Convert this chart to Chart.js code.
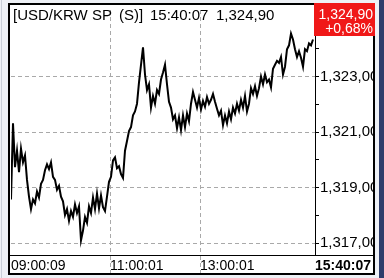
<!DOCTYPE html>
<html>
<head>
<meta charset="utf-8">
<script src="https://cdn.jsdelivr.net/npm/chart.js@4.4.0/dist/chart.umd.min.js"></script>
<style>
  html, body { margin: 0; padding: 0; background: #eef1f6; }
  #wrap { width: 384px; height: 278px; position: relative; }
</style>
</head>
<body>
<div id="wrap"><canvas id="c" width="384" height="278"></canvas></div>
<script>
// USD/KRW spot, intraday trace (one value per step)
const prices = [
  1318.58, 1321.32, 1319.74, 1320.33, 1319.56, 1320.40, 1319.91, 1320.16, 1319.28, 1318.68,
  1318.23, 1318.58, 1318.44, 1318.86, 1318.65, 1319.14, 1319.28, 1319.63, 1319.84, 1319.67,
  1319.91, 1319.39, 1319.28, 1318.93, 1319.07, 1318.68, 1318.51, 1318.02, 1318.23, 1317.81,
  1318.16, 1317.95, 1318.40, 1318.09, 1318.33, 1317.11, 1317.46, 1317.95, 1317.74, 1318.33,
  1318.09, 1318.65, 1318.23, 1318.79, 1318.26, 1318.72, 1318.30, 1318.16, 1318.68, 1319.21,
  1319.39, 1319.98, 1320.09, 1319.70, 1319.77, 1319.49, 1319.35, 1320.33, 1320.68, 1321.04,
  1321.18, 1321.60, 1321.74, 1322.02, 1322.79, 1323.42, 1324.05, 1323.07, 1322.51, 1322.72,
  1321.88, 1322.30, 1322.02, 1322.51, 1322.37, 1322.89, 1323.14, 1323.42, 1322.72, 1322.09,
  1321.88, 1321.46, 1321.60, 1321.14, 1321.53, 1321.07, 1321.60, 1321.18, 1321.67, 1321.39,
  1322.02, 1322.44, 1322.16, 1321.88, 1322.23, 1321.81, 1322.12, 1321.91, 1322.26, 1322.02,
  1322.16, 1322.37, 1322.09, 1321.84, 1321.60, 1321.77, 1321.25, 1321.60, 1321.32, 1321.74,
  1321.46, 1321.88, 1321.67, 1322.02, 1321.77, 1322.16, 1321.88, 1322.30, 1321.74, 1322.02,
  1322.58, 1322.37, 1322.65, 1322.30, 1322.58, 1323.00, 1322.72, 1323.07, 1322.79, 1322.89,
  1322.61, 1323.28, 1323.42, 1323.56, 1323.49, 1323.70, 1323.07, 1323.35, 1323.98, 1324.12,
  1324.54, 1324.33, 1323.98, 1323.70, 1323.91, 1323.67, 1323.35, 1323.98, 1323.91, 1324.19,
  1324.12, 1324.33
];

const timeTicks = [0, 49.5, 94.5, 152];
const timeLabels = ['09:00:09', '11:00:01', '13:00:01', '15:40:07'];
const gridTimes = [49.5, 94.5];

const yTicks = [1317, 1318, 1319, 1320, 1321, 1322, 1323, 1324, 1325];
const yLabelVals = [1317, 1319, 1321, 1323];
const yLabelText = ['1,317,00', '1,319,00', '1,321,00', '1,323,00'];

const titleParts = ['[USD/KRW SP', '(S)]', '15:40:07', '1,324,90'];
const lastPrice = '1,324,90';
const lastChange = '+0,68%';

const FONT = "'Liberation Sans', Arial, sans-serif";
const GRID = '#a9a9a9';
const BG = '#eef1f6';

Chart.defaults.font.family = FONT;
Chart.defaults.font.size = 14;
Chart.defaults.color = '#000';

const framePlugin = {
  id: 'frame',
  beforeDraw(chart) {
    const ctx = chart.ctx;
    ctx.save();
    ctx.fillStyle = BG;
    ctx.fillRect(0, 0, 384, 278);
    ctx.fillStyle = '#c9ced8';
    ctx.fillRect(1, 0, 1, 278);
    ctx.fillStyle = '#fff';
    ctx.fillRect(9, 4, 365, 270);
    ctx.restore();
  },
  afterDraw(chart) {
    const ctx = chart.ctx;
    const xs = chart.scales.x;
    ctx.save();
    // dashed time lines run on through the label strip
    ctx.strokeStyle = GRID;
    ctx.setLineDash([4, 3]);
    ctx.lineWidth = 1;
    gridTimes.forEach(t => {
      const px = Math.round(xs.getPixelForValue(t)) + 0.5;
      ctx.beginPath();
      ctx.moveTo(px, 256);
      ctx.lineTo(px, 273);
      ctx.stroke();
    });
    ctx.setLineDash([]);
    // clip the price labels at the frame
    ctx.fillStyle = BG;
    ctx.fillRect(375, 0, 9, 278);
    ctx.fillStyle = '#2f3d6b';
    ctx.fillRect(379, 0, 5, 278);
    // frame
    ctx.strokeStyle = '#000';
    ctx.lineWidth = 2;
    ctx.strokeRect(9, 4, 365, 270);
    ctx.lineWidth = 1;
    ctx.beginPath();
    ctx.moveTo(9, 255.5);
    ctx.lineTo(374, 255.5);
    ctx.stroke();
    // last price box
    ctx.fillStyle = '#f01818';
    ctx.fillRect(314, 3, 61, 33);
    ctx.fillStyle = '#fff';
    ctx.font = '14px ' + FONT;
    ctx.textAlign = 'right';
    ctx.textBaseline = 'alphabetic';
    ctx.fillText(lastPrice, 373, 19);
    ctx.fillText(lastChange, 373, 33);
    // title
    ctx.fillStyle = '#000';
    ctx.textAlign = 'left';
    ctx.font = '15px ' + FONT;
    ctx.fillText(titleParts[0], 13, 20);
    ctx.fillText(titleParts[1], 119, 20);
    ctx.fillText(titleParts[2], 150, 20);
    ctx.fillText(titleParts[3], 216, 20);
    ctx.restore();
  }
};

new Chart(document.getElementById('c'), {
  type: 'line',
  data: {
    datasets: [{
      data: prices.map((p, i) => ({ x: i, y: p })),
      borderColor: '#000',
      borderWidth: 2,
      pointRadius: 0,
      tension: 0,
      fill: false
    }]
  },
  options: {
    responsive: false,
    animation: false,
    events: [],
    layout: { padding: { left: 11, top: 5, right: 0, bottom: 0 } },
    plugins: { legend: { display: false }, tooltip: { enabled: false }, title: { display: false } },
    scales: {
      x: {
        type: 'linear',
        min: 0, max: 152,
        afterBuildTicks: s => { s.ticks = timeTicks.map(v => ({ value: v })); },
        afterFit: s => { s.height = 23; },
        grid: {
          drawTicks: false,
          color: c => (c.tick && gridTimes.includes(c.tick.value)) ? GRID : 'rgba(0,0,0,0)',
          lineWidth: 1
        },
        border: { display: true, color: '#000', width: 1, dash: [4, 3] },
        ticks: {
          autoSkip: false, maxRotation: 0, align: 'start', padding: 3,
          color: '#000',
          font: c => ({ family: FONT, size: 14, weight: c.index === timeTicks.length - 1 ? 'bold' : 'normal' }),
          callback: v => { const k = timeTicks.indexOf(v); return k >= 0 ? timeLabels[k] : ''; }
        }
      },
      y: {
        type: 'linear',
        position: 'right',
        min: 1316.58, max: 1325.39,
        afterBuildTicks: s => { s.ticks = yTicks.map(v => ({ value: v })); },
        afterFit: s => { s.width = 69; },
        grid: {
          drawTicks: true, tickLength: 4,
          color: c => (c.tick && yLabelVals.includes(c.tick.value)) ? GRID : 'rgba(0,0,0,0)',
          tickColor: '#000', tickBorderDash: [], lineWidth: 1
        },
        border: { display: true, color: '#000', width: 1, dash: [4, 3] },
        ticks: {
          padding: 1, color: '#000',
          font: { family: FONT, size: 15 },
          callback: v => { const k = yLabelVals.indexOf(v); return k >= 0 ? yLabelText[k] : ''; }
        }
      }
    }
  },
  plugins: [framePlugin]
});
</script>
</body>
</html>
